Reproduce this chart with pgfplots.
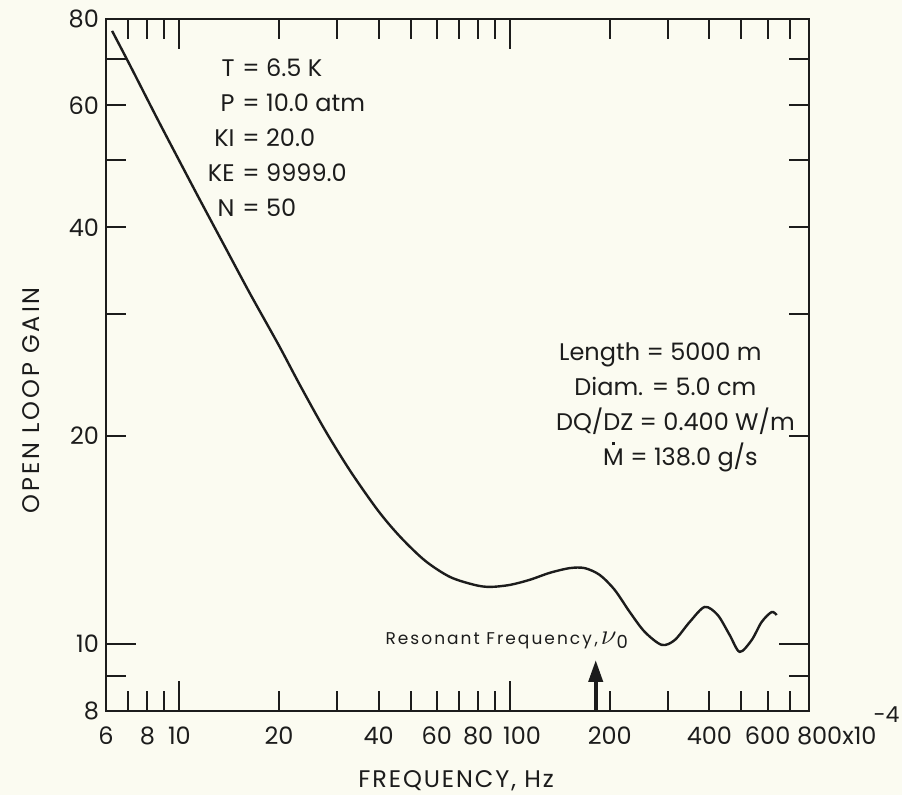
\documentclass[border=0pt]{standalone}
\usepackage{fontspec}
\setmainfont{Poppins}
\newfontfamily\spaced[LetterSpace=12]{Poppins}
\newfontfamily\wide[LetterSpace=8]{Poppins}
\newfontfamily\wider[LetterSpace=12]{Poppins}
\usepackage{pgfplots}
\pgfplotsset{compat=1.18}
\usetikzlibrary{arrows.meta,backgrounds}
\definecolor{paper}{RGB}{251,251,241}
\definecolor{ink}{RGB}{28,28,28}
% M with a dot above (dot drawn as a small rule)
\newcommand\Mdot{\leavevmode\setbox0\hbox{M}\hbox to \wd0{\hss\smash{\raisebox{9.8pt}{\rule{1.7pt}{1.7pt}}}\hss}\kern-\wd0 M}

\begin{document}
\begin{tikzpicture}
\begin{axis}[
  xmode=log, ymode=log,
  scale only axis, width=351.5pt, height=346pt,
  xmin=6, xmax=800, ymin=8, ymax=80,
  clip=false,
  axis line style={line width=1pt, ink},
  tick align=inside,
  major tick length=10pt, minor tick length=10pt,
  every tick/.style={line width=1pt, ink},
  xtick={6,8,10,20,40,60,80,100,200,400,600,800},
  xticklabels={6,8,10,20,40,60,80,
    {\makebox[0pt][l]{\kern-3.5pt 100}},200,400,600,
    {\makebox[0pt][l]{\kern-6pt 800x10\kern-1.5pt\smash{\raisebox{11pt}{\fontsize{11}{12}\selectfont -4}}}}},
  minor xtick={7,9,30,50,70,90,300,500,700},
  ytick={8,10,20,40,60,80},
  yticklabels={8,10,20,40,60,80},
  minor ytick={9,30,50,70},
  extra x ticks={10,100}, extra x tick labels={},
  extra x tick style={major tick length=15pt},
  extra y ticks={10}, extra y tick labels={},
  extra y tick style={major tick length=15pt},
  xticklabel style={font=\fontsize{12}{14}\selectfont, text=ink, yshift=-4.5pt},
  yticklabel style={font=\fontsize{12}{14}\selectfont, text=ink},
  xlabel={FREQUENCY, Hz},
  ylabel={OPEN LOOP GAIN},
  xlabel style={at={(axis description cs:0.498,-0.110)}, anchor=base, font=\wide\fontsize{12}{14}\selectfont, text=ink},
  ylabel style={at={(axis description cs:-0.107,0.449)}, anchor=center, font=\wider\fontsize{12}{14}\selectfont, text=ink},
]
\addplot[ink, line width=1.2pt, smooth, tension=0.5] coordinates {
  (6.26,76.9) (7.09,68.6) (8.56,57.5) (10.04,49.7) (11.54,43.8)
  (13.73,37.5) (16.34,32.1) (19.99,27.0) (23.1,23.7) (27.5,20.4)
  (32.8,17.8) (39.8,15.6) (46.4,14.3) (55.2,13.2) (65.7,12.5)
  (78.1,12.17) (86.8,12.09) (99.7,12.17) (114.6,12.38) (131.7,12.67)
  (151.3,12.87) (168.0,12.87) (186.5,12.58) (206.9,11.97) (229.8,11.12)
  (255.0,10.41) (287.0,9.97) (314.2,10.13) (348.8,10.76) (387.2,11.31)
  (423.8,11.01) (460.7,10.30) (493.9,9.74) (536.8,10.13) (575.5,10.76)
  (616.8,11.12) (638.9,11.01)
};
% resonant frequency arrow
\draw[ink, line width=2pt, -{Triangle[width=7pt,length=11pt]}] (axis cs:181.3,8) -- (axis cs:181.3,9.48);
\node[anchor=base west, inner sep=0, text=ink, font=\spaced\fontsize{8.5}{10}\selectfont]
  at (rel axis cs:0.397,0.0954) {Resonant Frequency\,,\,{\normalfont\fontsize{14}{14}\selectfont$\nu$}\raisebox{-2pt}{\normalfont\fontsize{9}{9}\selectfont 0}};
% parameter block, upper left
\node[anchor=base east, inner sep=0, text=ink, font=\fontsize{12}{17.5}\selectfont]
  at (rel axis cs:0.1835,0.9162) {\begin{tabular}[t]{@{}r@{}}T\\P\\KI\\KE\\N\end{tabular}};
\node[anchor=base west, inner sep=0, text=ink, font=\fontsize{12}{17.5}\selectfont]
  at (rel axis cs:0.1935,0.9162) {\begin{tabular}[t]{@{}l@{}}= 6.5 K\\= 10.0 atm\\= 20.0\\= 9999.0\\= 50\end{tabular}};
% parameter block, right
\node[anchor=base west, inner sep=0, text=ink, font=\fontsize{12}{17.5}\selectfont]
  at (rel axis cs:0.8009,0.5072) {\begin{tabular}[t]{@{}c@{}}
    \makebox[0pt]{\kern-10pt Length = 5000 m}\\
    \makebox[0pt]{\kern-5pt Diam. = 5.0 cm}\\
    \makebox[0pt]{\kern5pt DQ/DZ = 0.400 W/m}\\
    \makebox[0pt]{\kern10pt \Mdot\ = 138.0 g/s}\end{tabular}};
\coordinate (BL) at (rel axis cs:-0.1508,-0.1214);
\coordinate (TR) at (rel axis cs:1.1323,1.0275);
\end{axis}
\begin{scope}[on background layer]
\fill[paper] (BL) rectangle (TR);
\end{scope}
\end{tikzpicture}
\end{document}
